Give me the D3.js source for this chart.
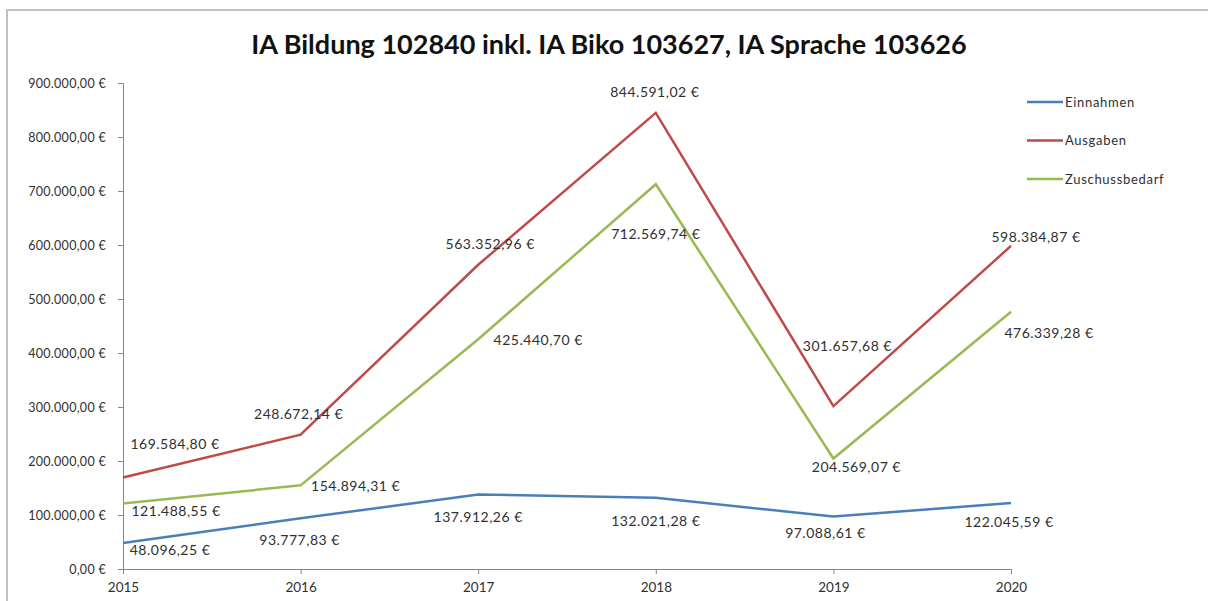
<!DOCTYPE html>
<html>
<head>
<meta charset="utf-8">
<script src="https://cdn.jsdelivr.net/npm/d3@7"></script>
<style>
  body { margin: 0; background: #fff; }
  svg text { font-family: Lato, "Open Sans", sans-serif; fill: #303030; }
</style>
</head>
<body>
<svg class="chart" width="1208" height="601"></svg>
<script>
const years = ['2015', '2016', '2017', '2018', '2019', '2020']
const einnahmen = [48096.25, 93777.83, 137912.26, 132021.28, 97088.61, 122045.59]
const ausgaben = [169584.80, 248672.14, 563352.96, 844591.02, 301657.68, 598384.87]
const zuschuss = [121488.55, 154894.31, 425440.70, 712569.74, 204569.07, 476339.28]
const yTicks = [0, 100000, 200000, 300000, 400000, 500000, 600000, 700000, 800000, 900000]

const series = [
  {name: 'Einnahmen', values: einnahmen, color: '#4a7ebb'},
  {name: 'Ausgaben', values: ausgaben, color: '#be4b48'},
  {name: 'Zuschussbedarf', values: zuschuss, color: '#98b954'},
]

// label offsets (dx, dy) from each point, as placed in the original
const labelOffsets = {
  Einnahmen: [[47, 7], [-1, 22], [0, 23], [0, 23], [-8, 17], [-2, 19]],
  Ausgaben: [[52, -33], [-2, -21], [12, -21], [-1, -21], [14, -60], [25, -9]],
  Zuschussbedarf: [[53, 8], [55, 1], [60, 1], [0, 50], [23, 9], [38, 21]],
}

const de = d3.formatLocale({decimal: ',', thousands: '.', grouping: [3], currency: ['', ' €']})
const fmt = de.format('$,.2f')

const svg = d3.select('svg.chart')

// chart frame
svg.append('rect')
    .attr('x', 7).attr('y', 10)
    .attr('width', 1240).attr('height', 620)
    .attr('fill', 'none')
    .attr('stroke', '#c0c0c0')
    .attr('stroke-width', 2)

svg.append('text')
    .attr('x', 609).attr('y', 54)
    .attr('text-anchor', 'middle')
    .style('font-size', '27px')
    .style('font-weight', 'bold')
    .style('fill', '#111')
    .text('IA Bildung 102840 inkl. IA Biko 103627, IA Sprache 103626')

const x = d3.scalePoint().domain(years).range([123, 1011])
const y = d3.scaleLinear().domain([0, 900000]).range([569, 83])

const yAxis = svg.append('g')
    .attr('transform', 'translate(123,0)')
    .call(d3.axisLeft(y).tickValues(yTicks).tickFormat(fmt).tickSizeOuter(0).tickSize(5).tickPadding(12))
yAxis.select('.domain').attr('stroke', '#868686')
yAxis.selectAll('.tick line').attr('stroke', '#868686')
yAxis.selectAll('text').style('font-size', '12.5px').style('letter-spacing', '0.3px').style('fill', '#303030')

const xAxis = svg.append('g')
    .attr('transform', 'translate(0,569)')
    .call(d3.axisBottom(x).tickSizeOuter(0).tickSize(5).tickPadding(8))
xAxis.select('.domain').attr('stroke', '#868686')
xAxis.selectAll('.tick line').attr('stroke', '#868686')
xAxis.selectAll('text').style('font-size', '13.5px').style('fill', '#303030')

const line = d3.line()
    .x((d, i) => x(years[i]))
    .y(d => y(d))

svg.append('g').selectAll('path')
  .data(series)
  .enter().append('path')
    .attr('d', d => line(d.values))
    .attr('fill', 'none')
    .attr('stroke', d => d.color)
    .attr('stroke-width', 2.5)
    .attr('stroke-linejoin', 'miter')

const labels = svg.append('g')
series.forEach(s => {
  labels.selectAll(null)
    .data(s.values)
    .enter().append('text')
      .attr('x', (d, i) => x(years[i]) + labelOffsets[s.name][i][0])
      .attr('y', (d, i) => y(d) + labelOffsets[s.name][i][1])
      .attr('text-anchor', 'middle')
      .attr('dy', '0.35em')
      .style('font-size', '14px')
      .style('letter-spacing', '0.5px')
      .text(d => fmt(d))
})

const legend = svg.append('g').selectAll('g')
  .data(series)
  .enter().append('g')
    .attr('transform', (d, i) => `translate(1027,${102 + i * 38.5})`)
legend.append('line')
    .attr('x1', 0).attr('x2', 36)
    .attr('stroke', d => d.color)
    .attr('stroke-width', 2.5)
legend.append('text')
    .attr('x', 38).attr('dy', '0.35em')
    .style('font-size', '13px')
    .style('letter-spacing', '0.7px')
    .text(d => d.name)
</script>
</body>
</html>
